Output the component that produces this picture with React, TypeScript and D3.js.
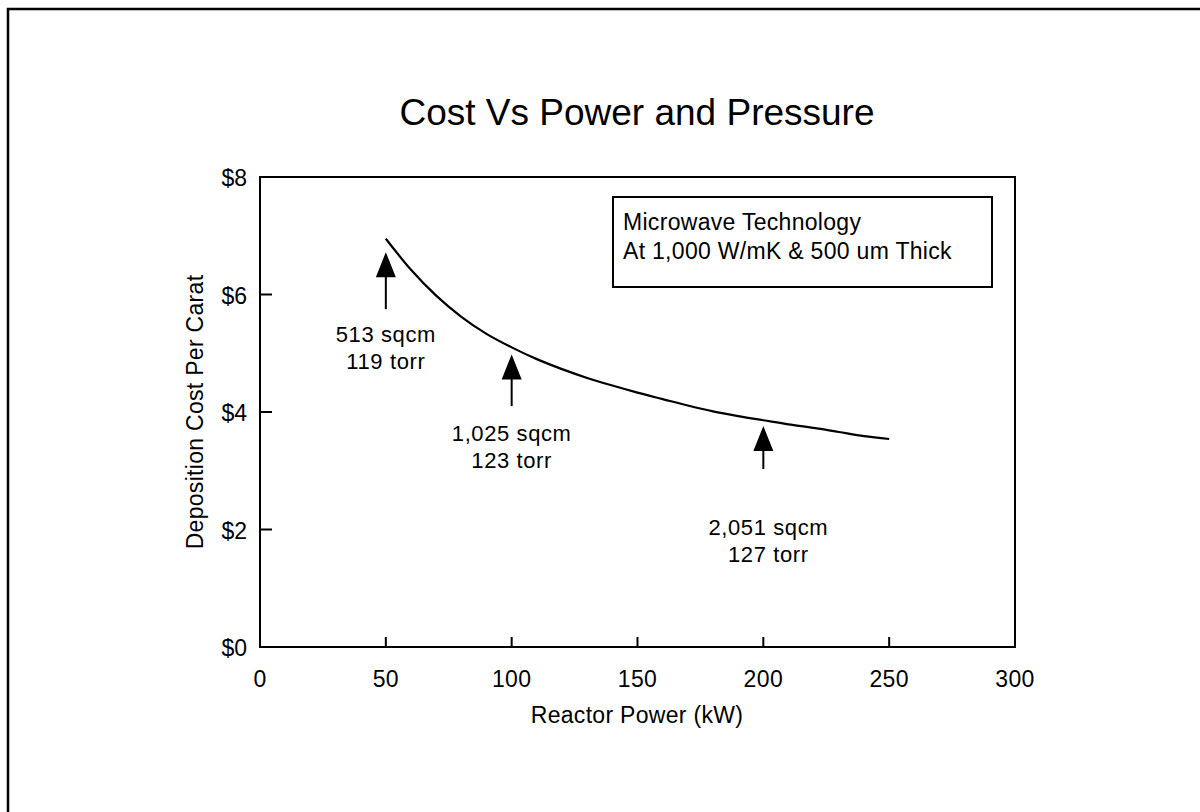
import React from 'react';
import * as d3 from 'd3';

// curve, cost per carat vs reactor power
const power = [50, 60, 70, 80, 90, 100, 110, 120, 130, 140, 150, 160, 170, 180, 190, 200, 210, 220, 230, 240, 250];
const cost = [6.95, 6.42, 5.98, 5.62, 5.33, 5.1, 4.9, 4.73, 4.58, 4.45, 4.33, 4.22, 4.11, 4.01, 3.93, 3.86, 3.79, 3.73, 3.66, 3.59, 3.54];

const xTicks = [0, 50, 100, 150, 200, 250, 300];
const yTicks = [0, 2, 4, 6, 8];

// arrows: x, tip value, tail value, label lines
const arrowX = [50, 100, 200];
const arrowTip = [6.72, 4.98, 3.76];
const arrowTail = [5.75, 4.1, 3.03];
const arrowLabels = [
  ['513 sqcm', '119 torr'],
  ['1,025 sqcm', '123 torr'],
  ['2,051 sqcm', '127 torr'],
];
const labelTop = [5.2, 3.5, 1.9];

const legendLines = ['Microwave Technology', 'At 1,000 W/mK & 500 um Thick'];

const W = 1200;
const H = 812;
const FONT = '"Liberation Sans", Arial, Helvetica, sans-serif';

export default function App() {
  const m = { left: 260, right: 1015, top: 177, bottom: 647 };
  const x = d3.scaleLinear().domain([0, 300]).range([m.left, m.right]);
  const y = d3.scaleLinear().domain([0, 8]).range([m.bottom, m.top]);

  const line = d3
    .line<number>()
    .x((d, i) => x(power[i]))
    .y((d) => y(d))
    .curve(d3.curveMonotoneX);

  return (
    <svg
      width={W}
      height={H}
      style={{ position: 'absolute', left: 0, top: 0, background: '#fff' }}
      fontFamily={FONT}
    >
      {/* page frame, open at right and bottom like the scan */}
      <path d={`M1200,9 H8 V812`} fill="none" stroke="#000" strokeWidth={2.5} />

      <text x={637} y={125} textAnchor="middle" fontSize={37}>
        Cost Vs Power and Pressure
      </text>

      {/* plot box */}
      <rect
        x={m.left}
        y={m.top}
        width={m.right - m.left}
        height={m.bottom - m.top}
        fill="none"
        stroke="#000"
        strokeWidth={2}
      />

      {xTicks.map((t) => (
        <g key={'x' + t}>
          {t > 0 && t < 300 && (
            <line x1={x(t)} x2={x(t)} y1={m.bottom} y2={m.bottom - 10} stroke="#000" strokeWidth={2} />
          )}
          <text x={x(t)} y={687} textAnchor="middle" fontSize={23} letterSpacing={0.4}>
            {t}
          </text>
        </g>
      ))}

      {yTicks.map((t) => (
        <g key={'y' + t}>
          {t > 0 && t < 8 && (
            <line x1={m.left} x2={m.left + 12} y1={y(t)} y2={y(t)} stroke="#000" strokeWidth={2} />
          )}
          <text x={247} y={y(t) + 9} textAnchor="end" fontSize={23}>
            {'$' + t}
          </text>
        </g>
      ))}

      <text x={637} y={723} textAnchor="middle" fontSize={23} letterSpacing={0.3}>
        Reactor Power (kW)
      </text>
      <text
        transform={`translate(203,412) rotate(-90)`}
        textAnchor="middle"
        fontSize={23}
        letterSpacing={0.3}
      >
        Deposition Cost Per Carat
      </text>

      <path d={line(cost) || ''} fill="none" stroke="#000" strokeWidth={2.2} />

      {arrowX.map((ax, i) => {
        const cx = x(ax);
        const tip = y(arrowTip[i]);
        const tail = y(arrowTail[i]);
        const headH = 25;
        return (
          <g key={'a' + i}>
            <line x1={cx} x2={cx} y1={tip + headH - 2} y2={tail} stroke="#000" strokeWidth={2} />
            <path d={`M${cx},${tip} L${cx + 10},${tip + headH} L${cx - 10},${tip + headH} Z`} fill="#000" />
            {arrowLabels[i].map((s, j) => (
              <text
                key={j}
                x={cx + (i === 2 ? 5 : 0)}
                y={y(labelTop[i]) + j * 27}
                textAnchor="middle"
                fontSize={22}
                letterSpacing={0.6}
              >
                {s}
              </text>
            ))}
          </g>
        );
      })}

      <rect x={613} y={197} width={379} height={90} fill="#fff" stroke="#000" strokeWidth={2} />
      {legendLines.map((s, i) => (
        <text key={i} x={623} y={230 + i * 29} fontSize={23} letterSpacing={0.3}>
          {s}
        </text>
      ))}
    </svg>
  );
}
